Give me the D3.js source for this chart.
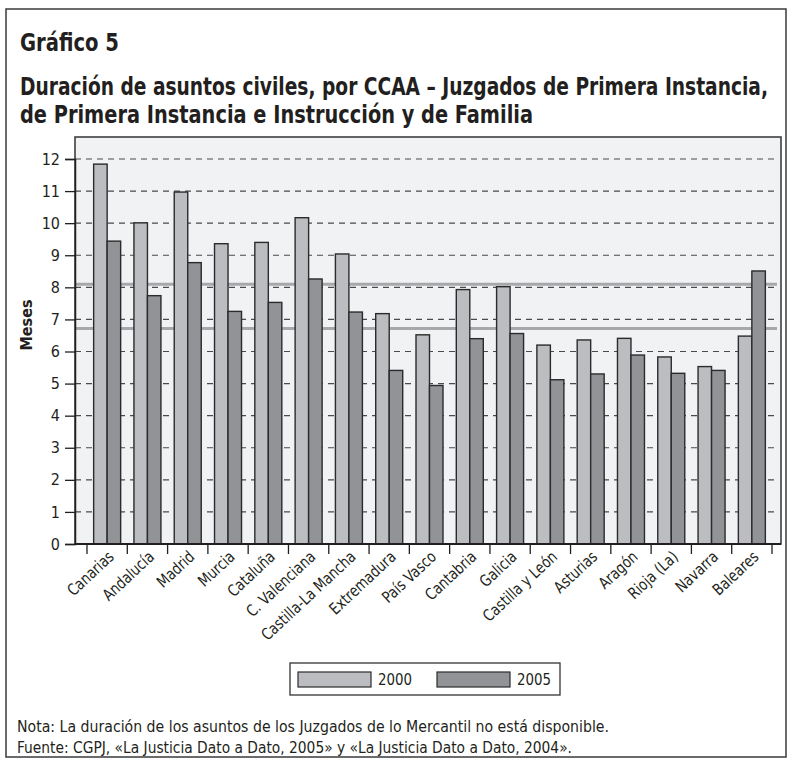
<!DOCTYPE html>
<html>
<head>
<meta charset="utf-8">
<script src="https://cdn.jsdelivr.net/npm/d3@7"></script>
<style>
  body { margin: 0; background: #ffffff; }
  svg text { font-family: "Liberation Sans Narrow", "Arial Narrow", "DejaVu Sans Condensed", sans-serif; fill: #231f20; }
</style>
</head>
<body>
<div id="chart"></div>
<script>
const regions = ['Canarias', 'Andalucía', 'Madrid', 'Murcia', 'Cataluña', 'C. Valenciana',
  'Castilla-La Mancha', 'Extremadura', 'País Vasco', 'Cantabria', 'Galicia', 'Castilla y León',
  'Asturias', 'Aragón', 'Rioja (La)', 'Navarra', 'Baleares'];
const values2000 = [11.84, 10.01, 10.97, 9.36, 9.40, 10.17, 9.04, 7.18, 6.52, 7.93, 8.02, 6.20, 6.36, 6.41, 5.83, 5.53, 6.48];
const values2005 = [9.44, 7.74, 8.77, 7.25, 7.53, 8.26, 7.23, 5.41, 4.94, 6.40, 6.56, 5.12, 5.30, 5.89, 5.32, 5.41, 8.51];
const years = ['2000', '2005'];
const refLines = [8.1, 6.72];
const yTicks = [0, 1, 2, 3, 4, 5, 6, 7, 8, 9, 10, 11, 12];

const width = 792, height = 766;
const plot = { left: 75, right: 781, top: 137, bottom: 544 };
const colors = { '2000': '#bcbdc1', '2005': '#929397' };

const svg = d3.select('#chart')
  .append('svg')
  .attr('width', width)
  .attr('height', height);

// fit a text to a width from the reference (narrow face not installed)
function fitText(sel, w) {
  sel.each(function () {
    if (this.getComputedTextLength() > 0) {
      d3.select(this).attr('textLength', w).attr('lengthAdjust', 'spacingAndGlyphs');
    }
  });
}

// outer frame
svg.append('rect')
  .attr('x', 6).attr('y', 9)
  .attr('width', 780).attr('height', 748)
  .attr('fill', 'none')
  .attr('stroke', '#3a3a3a')
  .attr('stroke-width', 1.5);

svg.append('text')
  .attr('x', 20).attr('y', 51)
  .style('font-size', '24px').style('font-weight', 700)
  .text('Gráfico 5')
  .call(fitText, 99);

const titleLines = ['Duración de asuntos civiles, por CCAA – Juzgados de Primera Instancia,',
  'de Primera Instancia e Instrucción y de Familia'];
const titleWidths = [748, 513];
svg.append('g').selectAll('text')
  .data(titleLines)
  .join('text')
  .attr('x', 20)
  .attr('y', (d, i) => 95 + i * 28)
  .style('font-size', '24px').style('font-weight', 700)
  .text(d => d)
  .each(function (d, i) { d3.select(this).call(fitText, titleWidths[i]); });

const y = d3.scaleLinear().domain([0, 12]).range([plot.bottom, 159]);
const x = d3.scaleBand().domain(regions).range([87, 772]).paddingInner(0.33).paddingOuter(0.165);
const xSub = d3.scaleBand().domain(years).range([0, x.bandwidth()]);

svg.append('rect')
  .attr('x', plot.left).attr('y', plot.top)
  .attr('width', plot.right - plot.left).attr('height', plot.bottom - plot.top)
  .attr('fill', '#f1f2f4')
  .attr('stroke', '#333')
  .attr('stroke-width', 1.5);

// dashed grid
svg.append('g')
  .selectAll('line')
  .data(yTicks.filter(d => d > 0))
  .join('line')
  .attr('x1', plot.left).attr('x2', plot.right - 2)
  .attr('y1', d => y(d)).attr('y2', d => y(d))
  .attr('stroke', '#4a4a4a')
  .attr('stroke-width', 1.2)
  .attr('stroke-dasharray', '6,5');

// reference lines
svg.append('g')
  .selectAll('line')
  .data(refLines)
  .join('line')
  .attr('x1', plot.left).attr('x2', 777)
  .attr('y1', d => y(d)).attr('y2', d => y(d))
  .attr('stroke', '#a7a8ab')
  .attr('stroke-width', 3);

const rows = regions.map((r, i) => ({ region: r, '2000': values2000[i], '2005': values2005[i] }));

svg.append('g')
  .selectAll('g')
  .data(rows)
  .join('g')
  .attr('transform', d => `translate(${x(d.region)},0)`)
  .selectAll('rect')
  .data(d => years.map(k => ({ key: k, value: d[k] })))
  .join('rect')
  .attr('x', d => xSub(d.key))
  .attr('y', d => y(d.value))
  .attr('width', xSub.bandwidth())
  .attr('height', d => y(0) - y(d.value))
  .attr('fill', d => colors[d.key])
  .attr('stroke', '#2b2b2b')
  .attr('stroke-width', 1.4);

// y axis
const yAxis = svg.append('g')
  .attr('transform', `translate(${plot.left},0)`)
  .call(d3.axisLeft(y).tickValues(yTicks).tickSize(10).tickPadding(5));
yAxis.select('.domain').attr('stroke', '#231f20').attr('stroke-width', 1.5);
yAxis.selectAll('.tick line').attr('stroke', '#231f20').attr('stroke-width', 1.3);
yAxis.selectAll('text').style('font-size', '16px').style('font-family', null).attr('fill', '#231f20');

// x axis
svg.append('line')
  .attr('x1', plot.left).attr('x2', plot.right)
  .attr('y1', y(0)).attr('y2', y(0))
  .attr('stroke', '#231f20').attr('stroke-width', 1.8);

const step = x.step();
const boundaries = regions.map(r => x(r) + x.bandwidth() / 2 - step / 2)
  .concat([x(regions[regions.length - 1]) + x.bandwidth() / 2 + step / 2]);
svg.append('g')
  .selectAll('line')
  .data(boundaries)
  .join('line')
  .attr('x1', d => d).attr('x2', d => d)
  .attr('y1', y(0)).attr('y2', y(0) + 10)
  .attr('stroke', '#231f20').attr('stroke-width', 1.3);

svg.append('g')
  .selectAll('text')
  .data(regions)
  .join('text')
  .attr('transform', d => `translate(${x(d) + x.bandwidth() / 2 + 4},${y(0) + 10}) rotate(-43) scale(0.9,1)`)
  .attr('text-anchor', 'end')
  .attr('dy', '0.35em')
  .style('font-size', '16px')
  .text(d => d);

svg.append('text')
  .attr('transform', `translate(32,325) rotate(-90)`)
  .attr('text-anchor', 'middle')
  .style('font-size', '16px').style('font-weight', 700)
  .text('Meses');

// legend
const legend = svg.append('g');
legend.append('rect')
  .attr('x', 290).attr('y', 663).attr('width', 270).attr('height', 32)
  .attr('fill', '#ffffff').attr('stroke', '#333').attr('stroke-width', 1.3);
const legendItems = legend.selectAll('g')
  .data(years)
  .join('g')
  .attr('transform', (d, i) => `translate(${298 + i * 139},672)`);
legendItems.append('rect')
  .attr('width', 73).attr('height', 15)
  .attr('fill', d => colors[d])
  .attr('stroke', '#2b2b2b').attr('stroke-width', 1.2);
legendItems.append('text')
  .attr('x', 80).attr('y', 13)
  .style('font-size', '16px')
  .text(d => d)
  .call(fitText, 34);

const notes = ['Nota: La duración de los asuntos de los Juzgados de lo Mercantil no está disponible.',
  'Fuente: CGPJ, «La Justicia Dato a Dato, 2005» y «La Justicia Dato a Dato, 2004».'];
const noteWidths = [592, 555];
svg.append('g').selectAll('text')
  .data(notes)
  .join('text')
  .attr('x', 17)
  .attr('y', (d, i) => 732 + i * 21)
  .style('font-size', '15px')
  .text(d => d)
  .each(function (d, i) { d3.select(this).call(fitText, noteWidths[i]); });
</script>
</body>
</html>
